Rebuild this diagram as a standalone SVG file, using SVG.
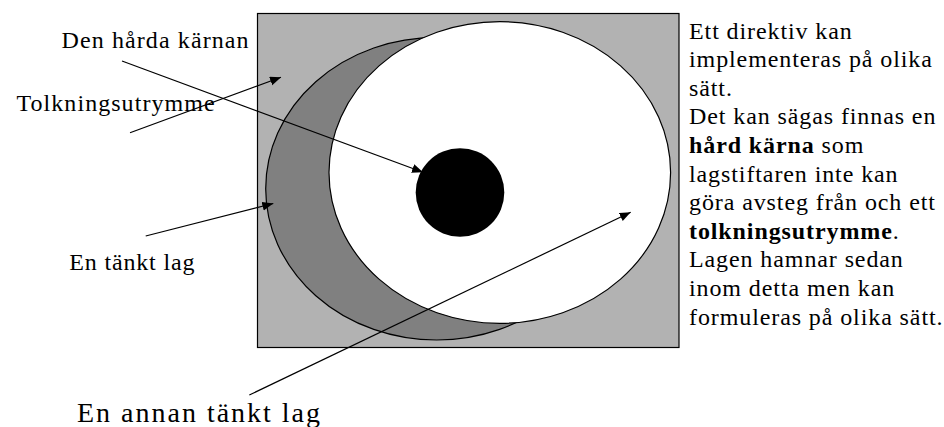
<svg xmlns="http://www.w3.org/2000/svg" width="944" height="427" viewBox="0 0 944 427">
<style>
text{font-family:"Liberation Serif","Times New Roman",serif;font-size:24px;fill:#000;letter-spacing:0.9px}
.b{font-weight:bold}
.big{font-size:28px;letter-spacing:0}
.conn line{stroke:#000;stroke-width:1.2;marker-end:url(#ah)}
.shape{stroke:#000;stroke-width:1.2}
</style>
<defs>
<marker id="ah" markerUnits="userSpaceOnUse" markerWidth="12" markerHeight="10" refX="11" refY="4.5" orient="auto">
<path d="M0,0 L11,4.5 L0,9 z" fill="#000"/>
</marker>
</defs>
<g id="frame">
<rect class="shape" x="257.5" y="13.5" width="421.5" height="334" fill="#b2b2b2"/>
</g>
<g id="tankt-lag">
<ellipse class="shape" cx="436.7" cy="188.7" rx="171" ry="151.3" fill="#808080"/>
</g>
<g id="annan-tankt-lag">
<ellipse class="shape" cx="499.8" cy="172.5" rx="170.8" ry="150.8" fill="#fff"/>
</g>
<g id="harda-karnan">
<circle cx="460" cy="192.5" r="44.3" fill="#000"/>
</g>
<g class="conn" id="connectors">
<line x1="122" y1="61" x2="423" y2="172.3"/>
<line x1="130" y1="132.7" x2="281" y2="77.3"/>
<line x1="145.7" y1="236" x2="273.3" y2="203.5"/>
<line x1="249.3" y1="395" x2="630.7" y2="212.3"/>
</g>
<g id="labels">
<text x="61.5" y="48.3" textLength="188" lengthAdjust="spacing">Den hårda kärnan</text>
<text x="16.5" y="110.5" textLength="199" lengthAdjust="spacing">Tolkningsutrymme</text>
<text x="69.3" y="269.5" textLength="126" lengthAdjust="spacing">En tänkt lag</text>
<text class="big" x="77" y="422" textLength="243" lengthAdjust="spacing">En annan tänkt lag</text>
</g>
<g id="description">
<text x="689" y="38.5">Ett direktiv kan</text>
<text x="689" y="67.1">implementeras på olika</text>
<text x="689" y="95.7">sätt.</text>
<text x="689" y="124.3">Det kan sägas finnas en</text>
<text x="689" y="152.9"><tspan class="b">hård kärna</tspan> som</text>
<text x="689" y="181.5">lagstiftaren inte kan</text>
<text x="689" y="210.1">göra avsteg från och ett</text>
<text x="689" y="238.7"><tspan class="b">tolkningsutrymme</tspan>.</text>
<text x="689" y="267.3">Lagen hamnar sedan</text>
<text x="689" y="295.9">inom detta men kan</text>
<text x="689" y="324.5">formuleras på olika sätt.</text>
</g>
</svg>
